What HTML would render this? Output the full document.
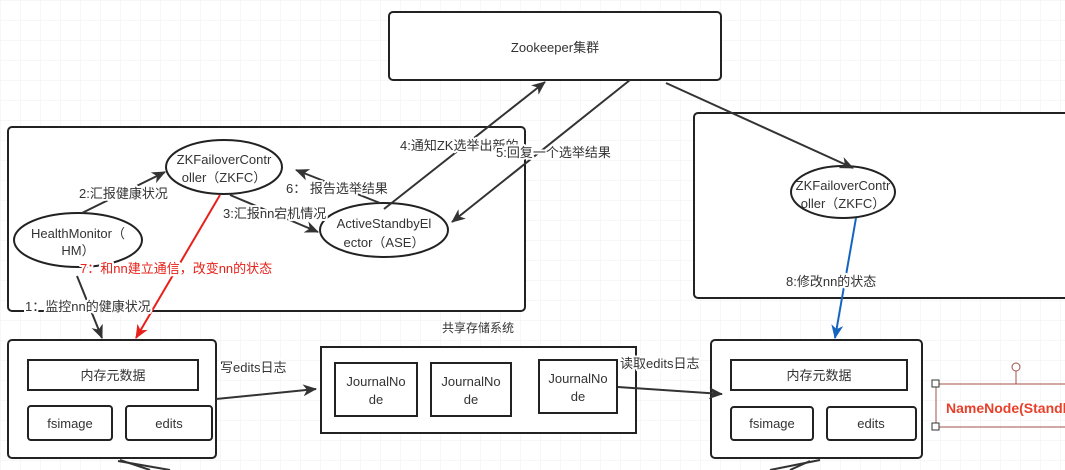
<!DOCTYPE html>
<html><head><meta charset="utf-8"><style>
html,body{margin:0;padding:0;background:#fff;}
svg{display:block;font-family:"Liberation Sans","Noto Sans CJK SC",sans-serif;}
.l text{paint-order:stroke;stroke:#fff;stroke-width:4px;stroke-linejoin:round;}
</style></head><body>
<svg width="1065" height="470" viewBox="0 0 1065 470" xmlns="http://www.w3.org/2000/svg">
<defs>
<pattern id="g" width="20" height="20" patternUnits="userSpaceOnUse"><path d="M20 0H0V20" fill="none" stroke="#efefef" stroke-width="1"/></pattern>
<marker id="a" markerWidth="14" markerHeight="12" refX="13" refY="6" orient="auto" markerUnits="userSpaceOnUse"><path d="M0,0 L14,6 L0,12 L4,6z" fill="#333"/></marker>
<marker id="r" markerWidth="14" markerHeight="12" refX="13" refY="6" orient="auto" markerUnits="userSpaceOnUse"><path d="M0,0 L14,6 L0,12 L4,6z" fill="#e8201a"/></marker>
<marker id="b" markerWidth="14" markerHeight="12" refX="13" refY="6" orient="auto" markerUnits="userSpaceOnUse"><path d="M0,0 L14,6 L0,12 L4,6z" fill="#1565c0"/></marker>
</defs>
<rect width="1065" height="470" fill="url(#g)"/>
<g fill="#fff" stroke="#222" stroke-width="2">
<rect x="389" y="12" width="332" height="68" rx="4"/>
<rect x="8" y="127" width="517" height="184" rx="4"/>
<rect x="694" y="113" width="380" height="185" rx="4"/>
<rect x="8" y="340" width="208" height="118" rx="4"/>
<rect x="28" y="360" width="170" height="30"/>
<rect x="28" y="406" width="84" height="34" rx="3"/>
<rect x="126" y="406" width="86" height="34" rx="3"/>
<rect x="321" y="347" width="315" height="86"/>
<rect x="335" y="363" width="82" height="53"/>
<rect x="431" y="363" width="80" height="53"/>
<rect x="539" y="360" width="78" height="53"/>
<rect x="711" y="340" width="211" height="118" rx="4"/>
<rect x="731" y="360" width="176" height="30"/>
<rect x="731" y="407" width="82" height="33" rx="3"/>
<rect x="827" y="407" width="89" height="33" rx="3"/>
<ellipse cx="224" cy="167" rx="58" ry="27"/>
<ellipse cx="78" cy="240" rx="64" ry="27"/>
<ellipse cx="384" cy="230" rx="64" ry="27"/>
<ellipse cx="843" cy="192" rx="52" ry="26"/>
</g>
<g stroke="#333" stroke-width="2" fill="none">
<line x1="82" y1="213" x2="165" y2="172" marker-end="url(#a)"/>
<line x1="230" y1="195" x2="318" y2="232" marker-end="url(#a)"/>
<line x1="380" y1="203" x2="296" y2="170" marker-end="url(#a)"/>
<line x1="384" y1="209" x2="545" y2="82" marker-end="url(#a)"/>
<line x1="630" y1="80" x2="452" y2="222" marker-end="url(#a)"/>
<line x1="666" y1="83" x2="853" y2="168" marker-end="url(#a)"/>
<line x1="77" y1="276" x2="102" y2="338" marker-end="url(#a)"/>
<line x1="216" y1="399" x2="316" y2="389" marker-end="url(#a)"/>
<line x1="618" y1="387" x2="722" y2="394" marker-end="url(#a)"/>
<line x1="118" y1="461" x2="170" y2="470"/>
<line x1="120" y1="460" x2="150" y2="470"/>
<line x1="820" y1="460" x2="770" y2="470"/>
<line x1="810" y1="461" x2="790" y2="470"/>
</g>
<line x1="220" y1="195" x2="136" y2="338" stroke="#e8201a" stroke-width="2" marker-end="url(#r)"/>
<line x1="856" y1="218" x2="835" y2="338" stroke="#1565c0" stroke-width="2" marker-end="url(#b)"/>
<g stroke="#a0524a" stroke-width="1" fill="none">
<line x1="936" y1="384" x2="1065" y2="384"/>
<line x1="936" y1="427" x2="1065" y2="427"/>
<line x1="936" y1="384" x2="936" y2="427"/>
<line x1="1016" y1="371" x2="1016" y2="384"/>
<circle cx="1016" cy="367" r="4" fill="#fff"/>
<rect x="932" y="380" width="7" height="7" fill="#fff" stroke="#333"/>
<rect x="932" y="423" width="7" height="7" fill="#fff" stroke="#333"/>
</g>
<g font-size="13" fill="#333" text-anchor="middle">
<text x="555" y="52">Zookeeper集群</text>
<text x="224" y="164">ZKFailoverContr</text><text x="224" y="182">oller（ZKFC）</text>
<text x="78" y="238">HealthMonitor（</text><text x="78" y="255">HM）</text>
<text x="384" y="228">ActiveStandbyEl</text><text x="384" y="247">ector（ASE）</text>
<text x="843" y="190">ZKFailoverContr</text><text x="843" y="208">oller（ZKFC）</text>
<text x="113" y="380">内存元数据</text>
<text x="70" y="428">fsimage</text><text x="169" y="428">edits</text>
<text x="376" y="386">JournalNo</text><text x="376" y="404">de</text>
<text x="471" y="386">JournalNo</text><text x="471" y="404">de</text>
<text x="578" y="383">JournalNo</text><text x="578" y="401">de</text>
<text x="819" y="380">内存元数据</text>
<text x="772" y="428">fsimage</text><text x="871" y="428">edits</text>
<text x="478" y="332" font-size="12">共享存储系统</text>
</g>
<g class="l" font-size="13" fill="#333">
<text x="79" y="198">2:汇报健康状况</text>
<text x="223" y="218">3:汇报nn宕机情况</text>
<text x="286" y="193">6： 报告选举结果</text>
<text x="400" y="150">4:通知ZK选举出新的...</text>
<text x="496" y="157">5:回复一个选举结果</text>
<text x="25" y="311">1：监控nn的健康状况</text>
<text x="80" y="273" fill="#e8201a">7：和nn建立通信，改变nn的状态</text>
<text x="786" y="286">8:修改nn的状态</text>
<text x="220" y="372">写edits日志</text>
<text x="620" y="368">读取edits日志</text>
</g>
<text x="946" y="413" fill="#e8402a" font-weight="bold" font-size="14">NameNode(Standby)</text>
</svg>
</body></html>
